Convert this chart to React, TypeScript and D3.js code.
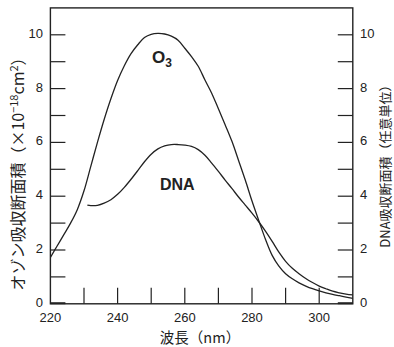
import React from 'react';
import * as d3 from 'd3';

const W = 394;
const H = 347;

// ozone absorption cross-section (x10^-18 cm2)
const o3Wave = [220, 222, 224, 226, 228, 230, 232, 234, 236, 238, 240, 242, 244, 246, 248, 250, 252, 254, 256, 258, 260, 262, 264, 266, 268, 270, 272, 274, 276, 278, 280, 282, 284, 286, 288, 290, 292, 294, 296, 298, 300, 302, 304, 306, 308, 310];
const o3Value = [1.72, 2.15, 2.57, 3.0, 3.5, 4.2, 5.1, 6.0, 6.85, 7.62, 8.3, 8.85, 9.3, 9.63, 9.9, 10.02, 10.05, 10.03, 9.95, 9.8, 9.5, 9.19, 8.83, 8.32, 7.83, 7.25, 6.66, 6.05, 5.33, 4.6, 3.82, 3.1, 2.4, 1.8, 1.4, 1.12, 0.93, 0.78, 0.66, 0.56, 0.48, 0.41, 0.35, 0.3, 0.25, 0.2];

// DNA absorption (arbitrary units)
const dnaWave = [231, 232, 234, 236, 238, 240, 242, 244, 246, 248, 250, 252, 254, 256, 258, 260, 262, 264, 266, 268, 270, 272, 274, 276, 278, 280, 282, 284, 286, 288, 290, 292, 294, 296, 298, 300, 302, 304, 306, 308, 310];
const dnaValue = [3.67, 3.65, 3.66, 3.74, 3.87, 4.07, 4.33, 4.63, 4.95, 5.28, 5.56, 5.76, 5.87, 5.92, 5.92, 5.9, 5.85, 5.73, 5.52, 5.23, 4.92, 4.6, 4.29, 3.97, 3.67, 3.37, 3.05, 2.7, 2.32, 1.92, 1.58, 1.32, 1.12, 0.94, 0.79, 0.66, 0.56, 0.47, 0.41, 0.36, 0.33];

const xTicks = [230, 240, 250, 260, 270, 280, 290, 300];
const xLabels = [220, 240, 260, 280, 300];
const yTicks = [1, 2, 3, 4, 5, 6, 7, 8, 9, 10];
const yLabels = [0, 2, 4, 6, 8, 10];

const numFont = "'Liberation Sans Narrow', 'Liberation Sans', Arial, sans-serif";
const jpFont = "'Noto Sans CJK JP', sans-serif";
const ink = '#222';

export default function App() {
  const left = 50.4, right = 352.8, top = 7.9, bottom = 303.8;

  const x = d3.scaleLinear().domain([220, 310]).range([left, right]);
  const y = d3.scaleLinear().domain([0, 11]).range([bottom, top]);

  const line = d3.line<[number, number]>()
    .x(d => x(d[0]))
    .y(d => y(d[1]))
    .curve(d3.curveCatmullRom.alpha(0.5));

  const o3Path = line(o3Wave.map((w, i) => [w, o3Value[i]]));
  const dnaPath = line(dnaWave.map((w, i) => [w, dnaValue[i]]));

  return (
    <svg width={W} height={H} style={{ position: 'absolute', left: 0, top: 0, background: '#fff' }}>
      <defs>
        <clipPath id="plot">
          <rect x={left} y={top} width={right - left} height={bottom - top} />
        </clipPath>
      </defs>

      {/* curves */}
      <g clipPath="url(#plot)" fill="none" stroke={ink} strokeWidth={1.3}>
        <path d={o3Path || ''} />
        <path d={dnaPath || ''} />
      </g>

      {/* frame */}
      <rect x={left} y={top} width={right - left} height={bottom - top}
        fill="none" stroke={ink} strokeWidth={1.4} />

      {/* x ticks, drawn inward */}
      {xTicks.map(t => (
        <line key={'xt' + t} x1={x(t)} x2={x(t)} y1={bottom} y2={bottom - 16}
          stroke={ink} strokeWidth={1.2} />
      ))}
      {xLabels.map(t => (
        <text key={'xl' + t} x={x(t)} y={bottom + 18} textAnchor="middle"
          fontFamily={numFont} fontSize={13} fill={ink}>{t}</text>
      ))}

      {/* y ticks both sides */}
      {yTicks.map(t => (
        <g key={'yt' + t}>
          <line x1={left} x2={left + 15} y1={y(t)} y2={y(t)} stroke={ink} strokeWidth={1.2} />
          <line x1={right} x2={right - 15} y1={y(t)} y2={y(t)} stroke={ink} strokeWidth={1.2} />
        </g>
      ))}
      <line x1={left} x2={left + 15} y1={bottom - 0.6} y2={bottom - 0.6} stroke={ink} strokeWidth={2} />
      <line x1={right} x2={right - 15} y1={bottom - 0.6} y2={bottom - 0.6} stroke={ink} strokeWidth={2} />
      {yLabels.map(t => (
        <g key={'yl' + t}>
          <text x={43} y={y(t) + 3} textAnchor="end"
            fontFamily={numFont} fontSize={13} fill={ink}>{t}</text>
          <text x={360} y={y(t) + 3} textAnchor="start"
            fontFamily={numFont} fontSize={13} fill={ink}>{t}</text>
        </g>
      ))}

      {/* curve labels */}
      <text x={152} y={63} fontFamily="'Liberation Sans', Arial, sans-serif" fontWeight="bold"
        fontSize={17} fill={ink}>
        O<tspan fontSize={12} dy={4}>3</tspan>
      </text>
      <text x={160} y={190} fontFamily="'Liberation Sans', Arial, sans-serif" fontWeight="bold"
        fontSize={16} fill={ink}>DNA</text>

      {/* axis titles */}
      <text x={200} y={343} textAnchor="middle" fontFamily={jpFont} fontSize={14.5} fill={ink}>
        波長（nm）
      </text>
      <text transform="translate(24,170) rotate(-90)" textAnchor="middle"
        fontFamily={jpFont} fontSize={16} fill={ink}>
        オゾン吸収断面積（×10<tspan fontSize={11} dy={-6}>−18</tspan><tspan dy={6}>cm</tspan><tspan fontSize={11} dy={-6}>2</tspan><tspan dy={6}>）</tspan>
      </text>
      <text transform="translate(390,163) rotate(-90)" textAnchor="middle"
        fontFamily={jpFont} fontSize={13} fill={ink}>
        DNA吸収断面積（任意単位）
      </text>
    </svg>
  );
}
